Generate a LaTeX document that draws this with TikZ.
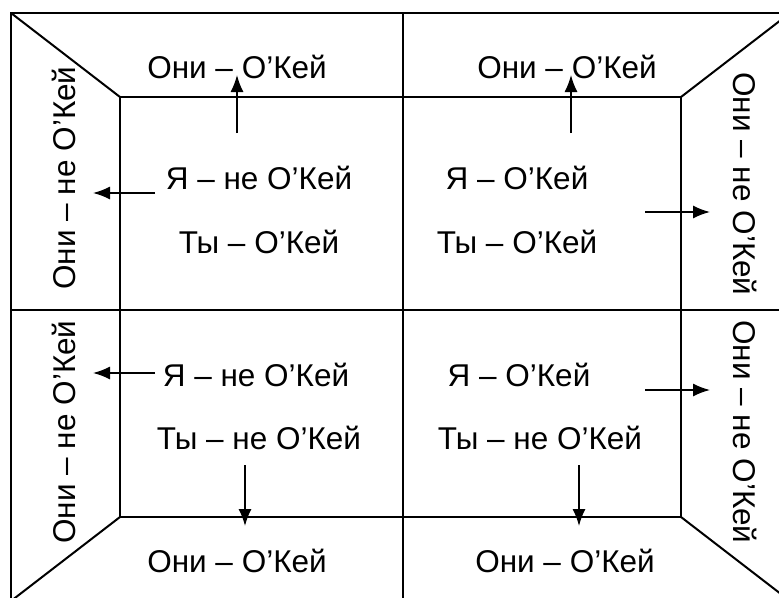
\documentclass[tikz,border=0pt]{standalone}
\usepackage{fontspec}
\setmainfont{Liberation Sans}
\usetikzlibrary{arrows.meta}
\begin{document}
\begin{tikzpicture}[x=1pt,y=-1pt,
  frame/.style={line width=2pt,black},
  lbl/.style={inner sep=0pt,font=\fontsize{31.5}{36}\selectfont},
  arr/.style={line width=1.6pt,-{Latex[length=17pt,width=13pt]}}]
\useasboundingbox (0,0) rectangle (779,597);
\begin{scope}
\clip (0,0) rectangle (779,597);
% frame
\coordinate (O1) at (11,13);
\coordinate (O2) at (790,13);
\coordinate (O3) at (790,601);
\coordinate (O4) at (11,601);
\coordinate (I1) at (120,97);
\coordinate (I2) at (681,97);
\coordinate (I3) at (681,517);
\coordinate (I4) at (120,517);
\draw[frame] (O1) -- (O2) -- (O3) -- (O4) -- cycle;
\draw[frame] (I1) -- (I2) -- (I3) -- (I4) -- cycle;
\draw[frame] (O1) -- (I1) (O2) -- (I2) (O3) -- (I3) (O4) -- (I4);
\coordinate (VT) at (403,13);
\coordinate (VB) at (403,601);
\coordinate (HL) at (11,310);
\coordinate (HR) at (790,310);
\draw[frame] (VT) -- (VB) (HL) -- (HR);
\end{scope}
% outer labels
\node[lbl] (t1) at (237,67) {Они – О’Кей};
\node[lbl] (t2) at (567,67) {Они – О’Кей};
\node[lbl] (b1) at (237,561) {Они – О’Кей};
\node[lbl] (b2) at (565,561) {Они – О’Кей};
\node[lbl,rotate=90] (l1) at (64,178) {Они – не О’Кей};
\node[lbl,rotate=90] (l2) at (64,432) {Они – не О’Кей};
\node[lbl,rotate=-90] (r1) at (745,184) {Они – не О’Кей};
\node[lbl,rotate=-90] (r2) at (745,432) {Они – не О’Кей};
% quadrant labels
\node[lbl] (q1a) at (259,178) {Я – не О’Кей};
\node[lbl] (q1b) at (259,242) {Ты – О’Кей};
\node[lbl] (q2a) at (517,178) {Я – О’Кей};
\node[lbl] (q2b) at (517,242) {Ты – О’Кей};
\node[lbl] (q3a) at (256,375) {Я – не О’Кей};
\node[lbl] (q3b) at (259,438) {Ты – не О’Кей};
\node[lbl] (q4a) at (519,375) {Я – О’Кей};
\node[lbl] (q4b) at (540,438) {Ты – не О’Кей};
% arrows
\coordinate (a1s) at (237,133); \coordinate (a1e) at (237,75);
\coordinate (a2s) at (571,133); \coordinate (a2e) at (571,75);
\coordinate (a3s) at (155,193); \coordinate (a3e) at (93,193);
\coordinate (a4s) at (645,212); \coordinate (a4e) at (710,212);
\coordinate (a5s) at (155,373); \coordinate (a5e) at (93,373);
\coordinate (a6s) at (645,390); \coordinate (a6e) at (710,390);
\coordinate (a7s) at (245,465); \coordinate (a7e) at (245,526);
\coordinate (a8s) at (579,465); \coordinate (a8e) at (579,526);
\draw[arr] (a1s) -- (a1e);
\draw[arr] (a2s) -- (a2e);
\draw[arr] (a3s) -- (a3e);
\draw[arr] (a4s) -- (a4e);
\draw[arr] (a5s) -- (a5e);
\draw[arr] (a6s) -- (a6e);
\draw[arr] (a7s) -- (a7e);
\draw[arr] (a8s) -- (a8e);
\end{tikzpicture}
\end{document}
